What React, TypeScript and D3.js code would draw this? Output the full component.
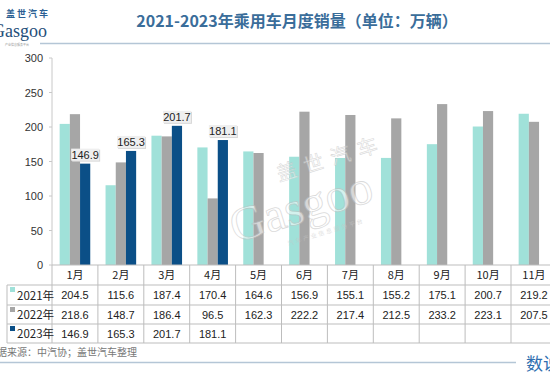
import React from "react";
import * as d3 from "d3";

const months = ["1月", "2月", "3月", "4月", "5月", "6月", "7月", "8月", "9月", "10月", "11月"];
const seriesNames = ["2021年", "2022年", "2023年"];
const v2021 = [204.5, 115.6, 187.4, 170.4, 164.6, 156.9, 155.1, 155.2, 175.1, 200.7, 219.2];
const v2022 = [218.6, 148.7, 186.4, 96.5, 162.3, 222.2, 217.4, 212.5, 233.2, 223.1, 207.5];
const v2023: (number | null)[] = [146.9, 165.3, 201.7, 181.1, null, null, null, null, null, null, null];
const yTicks = [0, 50, 100, 150, 200, 250, 300];
const colors = ["#a0e1d9", "#a6a6a6", "#0b4f87"];

const W = 550, H = 378;
const left = 52, step = 45.9;
const top = 58, bottom = 265;
const rowTops = [285, 305, 324, 343];
const FONT = "'Liberation Sans', Arial, 'Noto Sans CJK SC', sans-serif";
const CJK = "'Noto Sans CJK SC', 'Liberation Sans', sans-serif";

export default function App() {
  const series = [v2021, v2022, v2023];
  const x = d3.scaleBand<string>().domain(months).range([left, left + step * months.length]).paddingInner(0).paddingOuter(0);
  const xs = d3.scaleBand<string>().domain(seriesNames).range([0, x.bandwidth()]).paddingInner(0).paddingOuter(0.75);
  const y = d3.scaleLinear().domain([0, 300]).range([bottom, top]);
  const fmt = (v: number) => v.toFixed(1);

  const boundaries = months.map((m) => x(m)!).concat([left + step * months.length]);

  return (
    <svg width={W} height={H} style={{ position: "absolute", left: 0, top: 0, background: "#fff" }}>
      {/* logo */}
      <text x={6} y={17} fontFamily={CJK} fontSize={9} fontWeight="bold" fill="#2b5f93" letterSpacing={2}>盖世汽车</text>
      <text x={47} y={37} textAnchor="end" fontFamily="'Liberation Serif', serif" fontSize={18} fill="#1f4f7a">Gasgoo</text>
      <text x={5} y={46} fontFamily={CJK} fontSize={3} fill="#999">产业信息服务平台</text>

      {/* title */}
      <text x={297} y={27} textAnchor="middle" fontFamily={CJK} fontSize={16} fontWeight="bold" fill="#3a6d9a">
        2021-2023年乘用车月度销量（单位：万辆）
      </text>
      <line x1={40} x2={550} y1={43.5} y2={43.5} stroke="#b4c6d6" strokeWidth={1.5} />

      {/* y axis */}
      <line x1={left} x2={left} y1={top} y2={bottom} stroke="#c8c8c8" />
      {yTicks.map((t) => (
        <g key={t}>
          <line x1={left - 3} x2={left} y1={y(t)} y2={y(t)} stroke="#c8c8c8" />
          <text x={43} y={y(t) + 4} textAnchor="end" fontFamily={FONT} fontSize={11} fill="#333">{t}</text>
        </g>
      ))}

      {/* bars */}
      {series.map((vals, si) =>
        vals.map((v, i) =>
          v == null ? null : (
            <rect key={`${si}-${i}`} x={x(months[i])! + xs(seriesNames[si])!} y={y(v)} width={xs.bandwidth()} height={bottom - y(v)} fill={colors[si]} />
          )
        )
      )}

      {/* watermark */}
      <g transform="translate(300,215) rotate(-17)" opacity={0.55}>
        <text x={-10} y={-38} fontFamily={CJK} fontSize={20} fill="#ffffff" stroke="#bdbdbd" strokeWidth={0.6} letterSpacing={8}>盖世汽车</text>
        <text x={-70} y={8} fontFamily="'Liberation Serif', serif" fontSize={48} fill="#ffffff" stroke="#bdbdbd" strokeWidth={0.8}>Gasgoo</text>
        <text x={-20} y={26} fontFamily={CJK} fontSize={6} fill="#c8c8c8" letterSpacing={2}>汽车产业信息服务平台</text>
      </g>

      {/* data labels for 2023 */}
      {v2023.map((v, i) => {
        if (v == null) return null;
        const cx = x(months[i])! + xs(seriesNames[2])! + xs.bandwidth() / 2;
        const by = y(v) - 3;
        return (
          <g key={`lab-${i}`}>
            <rect x={cx - 13} y={by - 11} width={28} height={12} fill="#d8d8d8" />
            <rect x={cx - 14} y={by - 12} width={28} height={12} fill="#efefef" />
            <text x={cx} y={by - 2} textAnchor="middle" fontFamily={FONT} fontSize={11} fill="#222">{fmt(v)}</text>
          </g>
        );
      })}

      {/* x axis / table */}
      <line x1={left} x2={W} y1={bottom} y2={bottom} stroke="#bdbdbd" />
      {rowTops.map((ry) => (
        <line key={ry} x1={7} x2={W} y1={ry} y2={ry} stroke="#bdbdbd" />
      ))}
      <line x1={7} x2={7} y1={rowTops[0]} y2={rowTops[3]} stroke="#bdbdbd" />
      {boundaries.map((bx, i) => (
        <line key={`vb-${i}`} x1={bx} x2={bx} y1={bottom} y2={rowTops[3]} stroke="#bdbdbd" />
      ))}
      {months.map((m) => (
        <text key={m} x={x(m)! + x.bandwidth() / 2} y={279} textAnchor="middle" fontFamily={CJK} fontSize={11} fill="#222">{m}</text>
      ))}
      {series.map((vals, si) => {
        const ry = rowTops[si];
        const rh = rowTops[si + 1] - ry;
        return (
          <g key={`row-${si}`}>
            <rect x={10} y={ry + 2} width={5} height={5} fill={colors[si]} />
            <text x={17} y={ry + rh / 2 + 4.5} fontFamily={CJK} fontSize={11.5} fill="#222">{seriesNames[si]}</text>
            {vals.map((v, i) =>
              v == null ? null : (
                <text key={i} x={x(months[i])! + x.bandwidth() / 2} y={ry + rh / 2 + 4} textAnchor="middle" fontFamily={FONT} fontSize={11} fill="#222">{fmt(v)}</text>
              )
            )}
          </g>
        );
      })}

      {/* source */}
      <text x={-13} y={356} fontFamily={CJK} fontSize={10} fill="#777">数据来源：中汽协；盖世汽车整理</text>
      <line x1={0} x2={516} y1={362.5} y2={362.5} stroke="#b4c6d6" strokeWidth={1.5} />
      <text x={526} y={370} fontFamily={CJK} fontSize={17} fill="#2f6fb0">数说</text>
    </svg>
  );
}
